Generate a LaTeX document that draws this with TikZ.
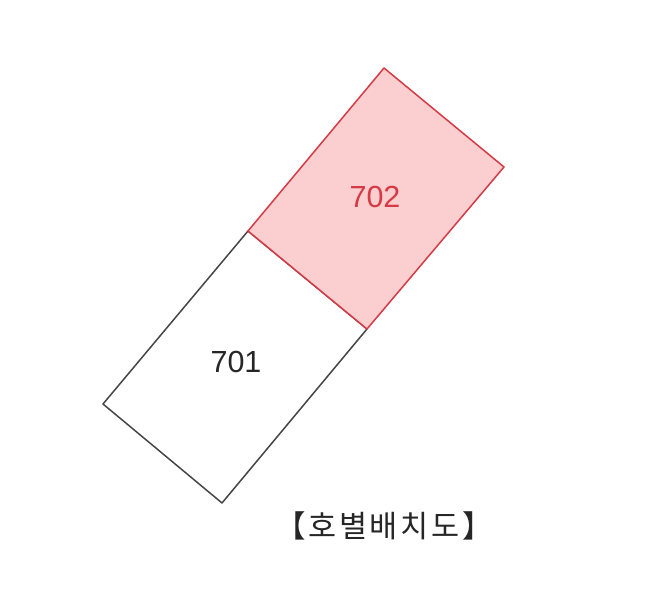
\documentclass[tikz,border=0pt]{standalone}
\usepackage{fontspec}
\setmainfont{Liberation Sans}
\newfontfamily\kofont[LetterSpace=9]{Noto Sans CJK KR}
\definecolor{unitred}{RGB}{214,58,70}
\definecolor{unitpink}{RGB}{251,207,207}
\definecolor{unitgray}{RGB}{70,70,70}
\tikzset{
  unitbox/.style={draw=unitgray, line width=1.5pt, line join=round, fill=white},
  selbox/.style={draw=unitred, line width=1.5pt, line join=round, fill=unitpink},
  unitnum/.style={font=\fontsize{30.5}{30}\selectfont, text=black!85},
  selnum/.style={font=\fontsize{30.5}{30}\selectfont, text=unitred}
}
\begin{document}
\begin{tikzpicture}[x=1pt, y=-1pt]
  \useasboundingbox (0,0) rectangle (653,600);
  % corners of the two units
  \coordinate (a) at (384,68);
  \coordinate (b) at (504,167);
  \coordinate (c) at (367,329);
  \coordinate (d) at (248,231);
  \coordinate (e) at (222,503);
  \coordinate (f) at (103,404);

  \draw[unitbox] (d) -- (c) -- (e) -- (f) -- cycle;
  \draw[selbox] (a) -- (b) -- (c) -- (d) -- cycle;

  \node (u702) [selnum] at (375,197) {702};
  \node (u701) [unitnum] at (236,362) {701};
  \node (title) [font=\kofont\fontsize{30.5}{30}\selectfont, text=black!85] at (384,526) {【호별배치도】};
\end{tikzpicture}
\end{document}
